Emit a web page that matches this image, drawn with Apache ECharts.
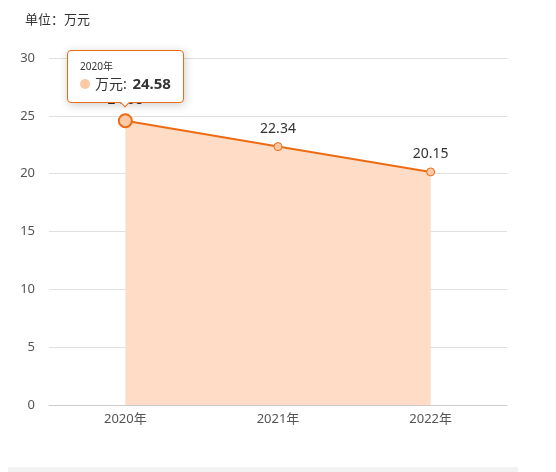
<!DOCTYPE html>
<html><head><meta charset="utf-8">
<script src="https://cdn.jsdelivr.net/npm/echarts@6/dist/echarts.min.js"></script>
<style>html,body{margin:0;padding:0;background:#fff;}#c{width:556px;height:472px;}</style>
</head><body><div id="c"></div>
<script>
const categories = ['2020年', '2021年', '2022年'];
const values = [24.58, 22.34, 20.15];
const seriesName = '万元';
const unitTitle = '单位：万元';
const tipIndex = 0;

const FONT = '"Noto Sans", "Noto Sans CJK SC", sans-serif';
const F2 = FONT.replace(/"/g, "'");
const chart = echarts.init(document.getElementById('c'));
const seriesData = values.map(function (v, i) {
  return i === tipIndex
    ? { value: v, symbolSize: 13, itemStyle: { borderWidth: 2 } }
    : { value: v };
});
chart.setOption({
  animation: false,
  textStyle: { fontFamily: FONT },
  title: { text: unitTitle, left: 20, top: 9, textStyle: { fontSize: 13, fontWeight: 'normal', color: '#333', fontFamily: FONT } },
  grid: { left: 49, right: 49, top: 58, bottom: 67 },
  tooltip: {
    trigger: 'item', position: 'top', alwaysShowContent: true, triggerOn: 'none',
    backgroundColor: '#fff', borderColor: '#EB6C12', borderWidth: 1, padding: [8, 12],
    formatter: function (p) {
      return '<div style="font-size:10px;color:#333;line-height:14px;font-family:' + F2 + '">' + p.name + '</div>' +
        '<div style="font-size:14px;color:#333;line-height:20px;font-family:' + F2 + '">' +
        '<span style="display:inline-block;width:10px;height:10px;border-radius:5px;background:#FBC9A6;margin-right:5px;"></span>' +
        p.seriesName + ': <b style="color:#333;font-size:15px;margin-left:2px">' + p.value + '</b></div>';
    }
  },
  xAxis: {
    type: 'category', data: categories, boundaryGap: true,
    axisLine: { lineStyle: { color: '#ccc' } },
    axisTick: { length: 7, lineStyle: { color: '#ccc' } },
    axisLabel: { color: '#555', fontSize: 13, margin: 8 }
  },
  yAxis: {
    type: 'value', min: 0, max: 30, interval: 5,
    axisLabel: { color: '#555', fontSize: 13, margin: 14 },
    splitLine: { lineStyle: { color: '#e0e0e0' } }
  },
  graphic: [{ type: 'rect', shape: { x: 8, y: 467, width: 510, height: 5 }, style: { fill: '#f2f2f2' } }],
  series: [{
    name: seriesName, type: 'line', data: seriesData,
    symbol: 'circle', symbolSize: 8,
    itemStyle: { color: '#FBC9A6', borderColor: '#EB6C12', borderWidth: 1 },
    lineStyle: { color: '#EB6C12', width: 2 },
    areaStyle: { color: '#FFDCC5', opacity: 1 },
    label: { show: true, position: 'top', color: '#333', fontSize: 14, distance: 6 },
    emphasis: { disabled: true }
  }]
});
chart.dispatchAction({ type: 'showTip', seriesIndex: 0, dataIndex: tipIndex });
</script></body></html>
